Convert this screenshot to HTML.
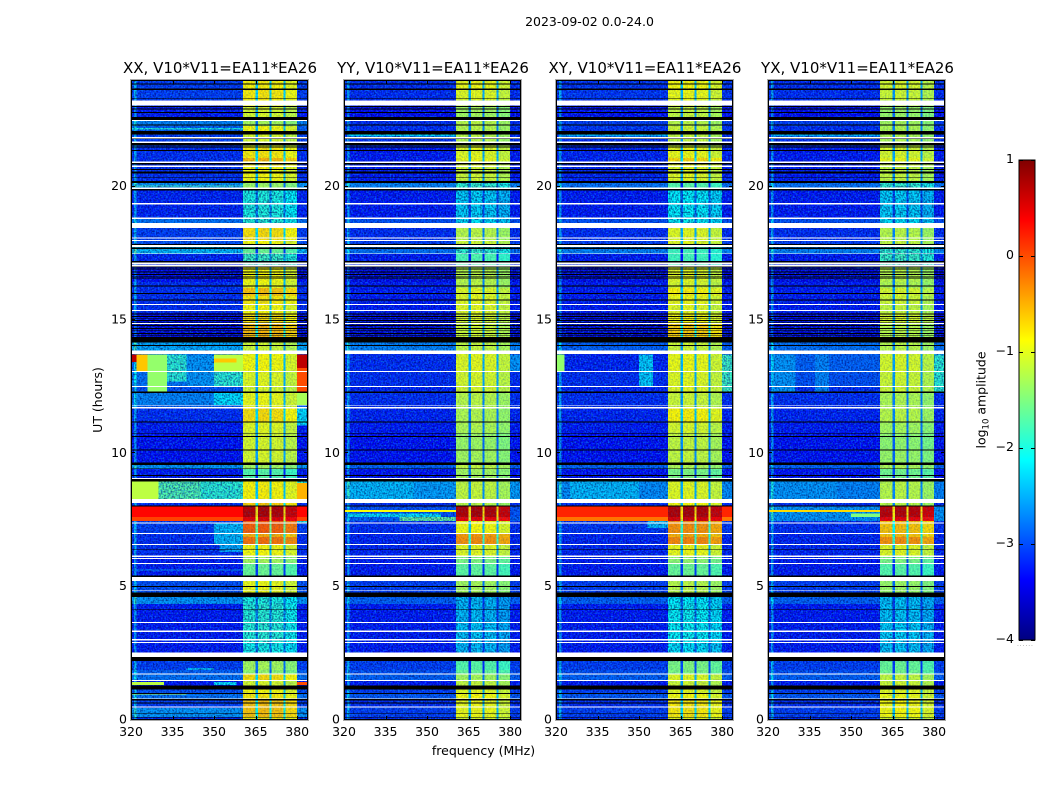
<!DOCTYPE html>
<html>
<head>
<meta charset="utf-8">
<title>2023-09-02 0.0-24.0</title>
<style>
html,body{margin:0;padding:0;background:#fff;width:1050px;height:800px;overflow:hidden}
svg{display:block}
text{font-family:"DejaVu Sans","Liberation Sans",sans-serif;fill:#000}
.tick{font-size:12.5px}
.ptitle{font-size:15px;text-anchor:middle}
.cell{shape-rendering:crispEdges}
</style>
</head>
<body>
<svg id="figure" width="1050" height="800" viewBox="0 0 1050 800" xmlns="http://www.w3.org/2000/svg">
  <defs>
    <filter id="speckDark" x="0" y="0" width="100%" height="100%" color-interpolation-filters="sRGB">
      <feTurbulence type="fractalNoise" baseFrequency="0.62 0.58" numOctaves="1" seed="3"/>
      <feColorMatrix type="matrix" values="0 0 0 0 0  0 0 0 0 0.02  0 0 0 0 0.38  2.8 0 0 0 -1.1"/>
    </filter>
    <filter id="speckLight" x="0" y="0" width="100%" height="100%" color-interpolation-filters="sRGB">
      <feTurbulence type="fractalNoise" baseFrequency="0.6 0.62" numOctaves="1" seed="11"/>
      <feColorMatrix type="matrix" values="0 0 0 0 0.05  0 0 0 0 0.6  0 0 0 0 1  0 2.8 0 0 -1.25"/>
    </filter>
    <linearGradient id="jetGradient" x1="0" y1="1" x2="0" y2="0"></linearGradient>
  </defs>
  <text x="589.5" y="26" text-anchor="middle" class="tick">2023-09-02 0.0-24.0</text>
  <text class="ptitle" x="220" y="73">XX, V10*V11=EA11*EA26</text>
  <text class="ptitle" x="433" y="73">YY, V10*V11=EA11*EA26</text>
  <text class="ptitle" x="645" y="73">XY, V10*V11=EA11*EA26</text>
  <text class="ptitle" x="857.5" y="73">YX, V10*V11=EA11*EA26</text>
  <text class="tick" text-anchor="middle" transform="translate(102,400) rotate(-90)">UT (hours)</text>
  <text class="tick" text-anchor="middle" x="483.5" y="755">frequency (MHz)</text>
  <text class="tick" text-anchor="middle" transform="translate(985.5,400) rotate(-90)">log<tspan font-size="8.5" dy="3">10</tspan><tspan dy="-3"> amplitude</tspan></text>
  <text x="1017" y="646" font-size="6" style="fill:#888;letter-spacing:0.9px">......</text>
  <g id="panels"></g>
  <g id="colorbar"></g>
</svg>
<script>
// Time axis: UT hour at which each observing block begins (descending, each runs to the next)
const blockTops = [24.00,23.63,23.25,23.03,22.46,22.28,21.98,21.56,21.49,21.08,20.96,20.74,20.14,19.88,18.79,18.45,17.96,17.74,17.48,17.03,16.43,16.20,15.90,15.56,15.26,14.85,14.16,13.72,13.05,12.49,12.28,11.70,11.18,10.76,10.13,9.64,9.41,8.96,8.14,8.00,7.61,7.46,6.98,6.86,6.56,6.13,5.85,5.21,4.61,4.35,3.64,2.89,2.21,1.88,1.70,1.46,1.16,0.98,0.75,0.45,0.11];

// log10 amplitude outside the bright band, per block
const xxLow = [-3.1,-3.1,-3.2,-3.3,-2.7,-2.9,-3.1,-3.1,-3.2,-3.2,-3.2,-3.2,-2.6,-3.25,-2.8,-3.1,-3.0,-2.4,-3.25,-3.4,-3.2,-3.2,-3.2,-3.2,-3.45,-3.55,-2.5,-2.9,-2.8,-3.0,-2.9,-3.2,-3.3,-3.35,-3.35,-2.6,-3.3,-1.9,-3.2,0.35,0.05,-3.1,-3.2,-3.2,-3.2,-3.3,-3.3,-3.0,-2.6,-3.3,-3.3,-3.3,-3.1,-2.9,-2.8,-3.3,-3.0,-2.8,-3.1,-2.6,-3.2];
const yyLow = [-3.2,-3.2,-3.3,-3.4,-3.2,-3.2,-3.2,-3.2,-3.3,-3.3,-3.3,-3.3,-2.7,-3.3,-3.0,-3.2,-3.1,-2.8,-3.3,-3.45,-3.3,-3.3,-3.3,-3.3,-3.5,-3.6,-2.7,-3.2,-3.2,-3.25,-3.2,-3.25,-3.3,-3.35,-3.35,-2.9,-3.35,-2.55,-3.2,-3.0,-2.9,-3.2,-3.25,-3.25,-3.25,-3.3,-3.3,-3.1,-2.9,-3.3,-3.3,-3.3,-3.1,-3.0,-2.9,-3.3,-3.1,-2.95,-3.2,-3.1,-3.2];
const xyLow = [-3.15,-3.15,-3.25,-3.35,-3.1,-3.15,-3.2,-3.2,-3.25,-3.25,-3.25,-3.25,-2.8,-3.3,-3.0,-3.2,-3.1,-2.7,-3.3,-3.45,-3.3,-3.3,-3.3,-3.3,-3.5,-3.6,-2.9,-3.25,-3.2,-3.25,-3.2,-3.25,-3.3,-3.35,-3.35,-2.9,-3.35,-2.65,-3.2,0.2,-0.2,-3.15,-3.25,-3.25,-3.25,-3.3,-3.3,-3.1,-2.9,-3.3,-3.3,-3.3,-3.1,-3.0,-2.9,-3.3,-3.1,-2.95,-3.2,-3.1,-3.2];
const yxLow = [-3.2,-3.2,-3.3,-3.4,-3.1,-3.2,-3.2,-3.2,-3.3,-3.3,-3.3,-3.3,-2.8,-3.3,-3.0,-3.2,-3.1,-2.7,-3.3,-3.45,-3.3,-3.3,-3.3,-3.3,-3.5,-3.6,-2.8,-2.9,-3.0,-3.2,-3.2,-3.25,-3.3,-3.35,-3.35,-2.9,-3.35,-2.7,-3.2,-2.6,-2.6,-3.2,-3.25,-3.25,-3.25,-3.3,-3.3,-3.1,-2.9,-3.3,-3.3,-3.3,-3.1,-3.0,-2.9,-3.3,-3.1,-2.95,-3.2,-3.1,-3.2];

// log10 amplitude in the bright 360-380 MHz band, per block
const xxHigh = [-0.85,-0.8,-0.9,-1.05,-1.3,-0.9,-1.05,-1.0,-0.8,-0.55,-0.75,-0.9,-1.35,-2.0,-1.95,-0.75,-0.9,-1.6,-1.85,-0.9,-0.95,-0.6,-0.8,-0.9,-0.75,-0.55,-1.1,-0.9,-1.0,-1.05,-0.95,-0.75,-1.0,-1.05,-1.05,-1.3,-1.7,-0.85,-0.65,0.75,0.5,-0.1,-0.5,-0.2,-0.9,-1.3,-1.6,-0.95,-2.0,-1.95,-1.95,-2.05,-1.3,-1.4,-0.75,-1.05,-0.9,-0.8,-0.6,-0.6,-0.8];
const yyHigh = [-0.95,-1.0,-1.15,-1.3,-1.2,-1.2,-1.2,-1.1,-1.0,-0.95,-1.0,-1.1,-1.9,-2.3,-2.2,-1.2,-1.1,-1.9,-1.75,-1.2,-1.2,-1.0,-1.0,-1.0,-1.05,-1.1,-1.15,-1.0,-1.05,-1.05,-1.2,-1.25,-1.25,-1.35,-1.3,-1.15,-1.3,-1.15,-1.2,0.75,0.45,-0.9,-0.4,-0.35,-1.0,-1.5,-1.65,-1.3,-2.4,-2.4,-2.35,-2.4,-1.7,-1.6,-1.3,-1.15,-1.0,-0.9,-0.95,-0.95,-1.05];
const xyHigh = [-0.9,-0.95,-1.05,-1.15,-1.2,-1.1,-1.15,-1.1,-0.95,-0.7,-0.9,-1.0,-1.7,-2.15,-2.1,-1.0,-1.0,-1.8,-1.8,-1.0,-1.05,-0.85,-0.95,-1.0,-0.9,-0.65,-1.1,-0.95,-1.0,-1.0,-1.1,-0.85,-1.05,-1.15,-1.15,-1.25,-1.5,-1.0,-0.9,0.75,0.55,-0.35,-0.5,-0.3,-0.95,-1.4,-1.6,-1.2,-2.15,-2.1,-2.1,-2.2,-1.5,-1.5,-1.0,-1.1,-1.0,-0.9,-0.8,-0.8,-0.95];
const yxHigh = [-1.05,-1.1,-1.2,-1.35,-1.3,-1.25,-1.25,-1.15,-1.05,-0.95,-1.05,-1.15,-1.9,-2.3,-2.2,-1.2,-1.15,-1.9,-1.85,-1.2,-1.25,-1.05,-1.1,-1.15,-1.05,-1.2,-1.2,-1.05,-1.1,-1.1,-1.25,-1.2,-1.3,-1.4,-1.35,-1.25,-1.55,-1.2,-1.2,0.7,0.45,-0.6,-0.6,-0.35,-1.0,-1.5,-1.7,-1.35,-2.35,-2.35,-2.3,-2.35,-1.6,-1.55,-1.15,-1.1,-1.0,-0.95,-0.9,-0.9,-1.05];

// Localised interference: [UT top, UT bottom, MHz from, MHz to, log10 amplitude]
const xxPatches = [
 [13.70,13.43,320,322,0.7],[13.70,13.05,322,326,-0.6],[13.70,12.30,326,333,-1.4],[13.70,12.70,333,340,-1.9],[13.70,12.53,340,350,-2.6],
 [13.70,13.05,350,360.4,-1.2],[13.05,12.49,350,360.4,-1.9],[13.55,13.40,350,358,-0.6],[13.70,13.20,380,384,0.7],
 [13.20,12.30,380,384,0.0],[12.26,11.82,322,350,-2.7],[12.26,11.82,350,360.4,-2.2],[12.26,11.82,380,384,-1.3],
 [11.68,11.05,380,384,-2.2],[8.96,8.29,320,330,-1.2],[8.96,8.29,330,345,-1.7],[8.96,8.29,345,360.4,-1.9],
 [8.89,8.29,380,384,-0.5],[7.41,6.60,350,360.4,-2.4],[6.60,6.30,352,360.4,-2.5],[7.46,7.40,380,384,-2.0],
 [1.42,1.31,320,332,-1.2],[1.42,1.31,350,358,-2.2],[1.42,1.31,380,384,0.0],[1.95,1.88,340,350,-2.4],
 [22.20,22.15,320,360.4,-2.0],[20.05,20.00,322,360.4,-1.7],[5.65,5.60,320,360.4,-2.6],[0.98,0.95,320,340,-1.3]
];
const yyPatches = [
 [7.88,7.80,320,360.4,-0.9],[7.75,7.61,322,355,-2.2],[7.61,7.46,340,360.4,-1.6],[13.70,13.05,380,384,-2.6],
 [8.96,8.29,322,345,-2.4],[21.95,21.88,322,360.4,-2.2]
];
const xyPatches = [
 [13.70,12.53,350,355,-2.3],[13.70,13.05,320,323,-1.4],[13.70,12.30,380,384,-1.8],[8.96,8.29,325,350,-2.4],
 [7.46,7.20,353,360.4,-2.4],[21.95,21.88,322,360.4,-2.4]
];
const yxPatches = [
 [13.70,12.30,322,330,-2.6],[13.70,12.30,337,342,-2.7],[13.70,12.30,380,384,-1.9],[8.96,8.29,322,345,-2.6],
 [7.88,7.80,320,360.4,-0.7],[7.75,7.61,350,360.4,-1.5],[21.95,21.88,322,360.4,-2.4]
];

// Flagged time ranges shared by all panels: [UT top, UT bottom]
const whiteBands = [[23.24,23.04],[22.50,22.46],[21.87,21.81],[21.69,21.64],[20.94,20.89],[20.79,20.74],[19.96,19.91],[19.38,19.34],[18.85,18.78],[18.63,18.45],[18.09,18.06],[18.00,17.97],[17.81,17.74],[17.52,17.49],[17.15,17.10],[17.09,17.01],[15.60,15.57],[15.38,15.34],[14.89,14.85],[13.85,13.73],[13.09,13.05],[12.53,12.49],[11.82,11.79],[11.73,11.69],[9.08,9.04],[8.29,8.13],[7.41,7.37],[7.01,6.98],[6.60,6.56],[6.16,6.12],[6.08,6.04],[5.88,5.85],[5.36,5.21],[4.86,4.83],[3.68,3.64],[3.36,3.30],[3.03,2.99],[2.93,2.89],[2.54,2.36],[1.74,1.70],[1.50,1.46],[0.81,0.78],[0.50,0.46]];
const blackBands = [[24.00,23.96],[23.87,23.83],[23.68,23.63],[23.31,23.29],[23.03,22.99],[22.93,22.89],[22.80,22.76],[22.62,22.50],[22.33,22.29],[22.09,21.96],[21.80,21.78],[21.63,21.54],[21.50,21.46],[21.38,21.34],[20.89,20.84],[20.66,20.63],[20.56,20.50],[20.37,20.34],[20.21,20.13],[19.91,19.86],[17.85,17.81],[17.71,17.67],[17.21,17.16],[17.01,16.97],[16.93,16.90],[16.82,16.79],[16.72,16.69],[16.63,16.60],[16.56,16.53],[16.29,16.25],[16.01,15.98],[15.77,15.73],[15.25,15.21],[15.15,15.12],[15.08,15.05],[15.00,14.97],[14.93,14.90],[14.81,14.78],[14.70,14.67],[14.61,14.58],[14.51,14.48],[14.44,14.41],[14.37,14.16],[14.06,14.03],[12.31,12.27],[11.19,11.15],[10.77,10.74],[10.65,10.61],[10.15,10.10],[9.66,9.57],[9.44,9.41],[9.19,9.15],[9.03,8.94],[8.04,8.00],[6.41,6.39],[5.41,5.37],[5.03,4.98],[4.79,4.62],[4.14,4.12],[2.36,2.21],[1.30,1.15],[1.02,0.98],[0.78,0.74],[0.65,0.61],[0.27,0.25],[0.12,0.09]];

// Frequency layout (MHz)
const edgeChannel = [321,322];
const windowBands = [[360.4,365],[365.8,370],[370.8,375],[375.8,380]];
const windowTilt = [0,0.03,0,-0.12];

// Tick labels
const freqTicks = [320,335,350,365,380];
const utTicks = [0,5,10,15,20];
const cbarTicks = [1,0,-1,-2,-3,-4];

const panelNames = ['xx','yy','xy','yx'];
const panelLows = [xxLow,yyLow,xyLow,yxLow];
const panelHighs = [xxHigh,yyHigh,xyHigh,yxHigh];
const panelPatches = [xxPatches,yyPatches,xyPatches,yxPatches];

const edgeBoost = 0.7;
const gapDrop = 1.5;
const quietGapDrop = 0.7;
const NS = 'http://www.w3.org/2000/svg';
const plotTop = 80, plotBottom = 720, plotWidth = 177;
const panelLeft = [131,344,556,768];
const mhzPx = 2.77;
const hourPx = (plotBottom - plotTop) / 24;

const yAxis = ut => plotBottom - ut * hourPx;
const cbarY = v => 640 - (v + 4) * 96;

function clip(v){return Math.max(0,Math.min(1,v));}
function jet(v){
  const x = clip((v + 4) / 5);
  const r = clip(Math.min(4*x-1.5,-4*x+4.5));
  const g = clip(Math.min(4*x-0.5,-4*x+3.5));
  const b = clip(Math.min(4*x+0.5,-4*x+2.5));
  return 'rgb('+Math.round(r*255)+','+Math.round(g*255)+','+Math.round(b*255)+')';
}
function svgEl(tag,parent){
  const el = document.createElementNS(NS,tag);
  parent.appendChild(el);
  return el;
}
function box(parent,x0,x1,y0,y1,fill){
  const r = svgEl('rect',parent);
  r.setAttribute('x',x0);
  r.setAttribute('y',y0);
  r.setAttribute('width',Math.max(0,x1-x0));
  r.setAttribute('height',Math.max(0,y1-y0));
  r.setAttribute('fill',fill);
  r.setAttribute('class','cell');
  return r;
}
function line(parent,x1,y1,x2,y2,stroke){
  const l = svgEl('line',parent);
  l.setAttribute('x1',x1);
  l.setAttribute('y1',y1);
  l.setAttribute('x2',x2);
  l.setAttribute('y2',y2);
  l.setAttribute('stroke',stroke||'#000');
  l.setAttribute('stroke-width','1');
  l.setAttribute('shape-rendering','crispEdges');
  return l;
}
function label(parent,x,y,str,anchor){
  const t = svgEl('text',parent);
  t.setAttribute('x',x);
  t.setAttribute('y',y);
  t.setAttribute('text-anchor',anchor);
  t.setAttribute('class','tick');
  t.textContent = str;
  return t;
}

const panelsRoot = document.getElementById('panels');
panelNames.forEach((name,p) => {
  const left = panelLeft[p];
  const xAxis = f => left + (f - 320) * mhzPx;
  const g = svgEl('g',panelsRoot);
  
  
  const low = panelLows[p], high = panelHighs[p];
  const blockBottom = i => yAxis(i + 1 < blockTops.length ? blockTops[i+1] : 0);

  blockTops.forEach((ut,i) => {
    const y0 = yAxis(ut);
    const y1 = blockBottom(i);
    const base = box(g,left,left+plotWidth,y0,y1,jet(low[i]));
    
    
    const edge = box(g,xAxis(edgeChannel[0]),xAxis(edgeChannel[1]),y0,y1,jet(low[i]+edgeBoost));
    
    
  });
  panelPatches[p].filter(c => c[4] < -1.5).forEach(c => {
    const patch = box(g,xAxis(c[2]),xAxis(c[3]),yAxis(c[0]),yAxis(c[1]),jet(c[4]));
    
    
  });
  blockTops.forEach((ut,i) => {
    const y0 = yAxis(ut);
    const y1 = blockBottom(i);
    const drop = high[i] < -1.8 ? quietGapDrop : gapDrop;
    const gap = box(g,xAxis(windowBands[0][0]),xAxis(windowBands[3][1]),y0,y1,jet(high[i]-drop));
    
    
    windowBands.forEach((b,w) => {
      const cell = box(g,xAxis(b[0]),xAxis(b[1]),y0,y1,jet(high[i]+windowTilt[w]));
      
      
    });
  });

  // channel-noise texture (decorative, carries no data)
  [[320,360.4,0.65],[380,384,0.65],[360.4,380,0.2]].forEach(z => {
    ['speckDark','speckLight'].forEach(fid => {
      const s = box(g,xAxis(z[0]),xAxis(z[1]),plotTop,plotBottom,'#000');
      s.setAttribute('filter','url(#'+fid+')');
      s.setAttribute('opacity',z[2]);
      
      
    });
  });
  blockTops.forEach((ut,i) => {
    if (high[i] >= -1.8) return;
    const s = box(g,xAxis(360.4),xAxis(380),yAxis(ut),blockBottom(i),'#000');
    s.setAttribute('filter','url(#speckDark)');
    s.setAttribute('opacity',0.55);
    
    
  });

  // hot rows and strong interference sit above the texture
  blockTops.forEach((ut,i) => {
    if (low[i] < -1) return;
    const hot = box(g,left,xAxis(360.4),yAxis(ut),blockBottom(i),jet(low[i]));
    
    
    const hotTail = box(g,xAxis(380),left+plotWidth,yAxis(ut),blockBottom(i),jet(low[i]));
    
    
  });
  panelPatches[p].filter(c => c[4] >= -1.5).forEach(c => {
    const patch = box(g,xAxis(c[2]),xAxis(c[3]),yAxis(c[0]),yAxis(c[1]),jet(c[4]));
    
    
  });

  blackBands.forEach(b => {
    const r = box(g,left,left+plotWidth,yAxis(b[0]),yAxis(b[1]),'#000');
    
    
  });
  whiteBands.forEach(b => {
    const r = box(g,left,left+plotWidth,yAxis(b[0]),yAxis(b[1]),'#fff');
    
    
  });

  // frame
  const halo = svgEl('rect',g);
  halo.setAttribute('x',left-0.5);
  halo.setAttribute('y',plotTop-0.5);
  halo.setAttribute('width',plotWidth+1);
  halo.setAttribute('height',plotBottom-plotTop+1);
  halo.setAttribute('fill','none');
  halo.setAttribute('stroke','#aaa');
  halo.setAttribute('stroke-width','1');
  
  
  const frame = svgEl('rect',g);
  frame.setAttribute('x',left+0.5);
  frame.setAttribute('y',plotTop+0.5);
  frame.setAttribute('width',plotWidth-1);
  frame.setAttribute('height',plotBottom-plotTop-1);
  frame.setAttribute('fill','none');
  frame.setAttribute('stroke','#000');
  frame.setAttribute('stroke-width','1');
  
  

  freqTicks.forEach(f => {
    const x = Math.round(xAxis(f)) + 0.5;
    const t1 = line(g,x,plotBottom,x,plotBottom-4);
    
    
    const t2 = line(g,x,plotTop,x,plotTop+4);
    
    
    const t = label(g,xAxis(f),736,String(f),'middle');
    
    
  });
  utTicks.forEach(u => {
    const y = Math.round(yAxis(u)) - 0.5;
    const t1 = line(g,left,y,left+4,y);
    
    
    const t2 = line(g,left+plotWidth,y,left+plotWidth-4,y);
    
    
    const t = label(g,left-4,yAxis(u)+3.5,String(u),'end');
    
    
  });
});

// colour bar
const grad = document.getElementById('jetGradient');
for (let k = 0; k <= 40; k++) {
  const st = svgEl('stop',grad);
  st.setAttribute('offset',(k/40));
  st.setAttribute('stop-color',jet(-4 + k/8));
}
const cb = document.getElementById('colorbar');
const cbLeft = 1019, cbRight = 1035;
const cbBody = svgEl('rect',cb);
cbBody.setAttribute('x',cbLeft);
cbBody.setAttribute('y',160);
cbBody.setAttribute('width',cbRight-cbLeft);
cbBody.setAttribute('height',480);
cbBody.setAttribute('fill','url(#jetGradient)');
cbBody.setAttribute('stroke','#000');
cbBody.setAttribute('stroke-width','1');


cbarTicks.forEach(v => {
  const y = Math.round(cbarY(v)) + 0.5;
  const t1 = line(cb,cbLeft,y,cbLeft+4,y);
  
  
  const t2 = line(cb,cbRight,y,cbRight-4,y);
  
  
  const t = label(cb,1014,cbarY(v)+3,(v < 0 ? '\u2212' + Math.abs(v) : String(v)),'end');
  
  
});
</script>
</body>
</html>
